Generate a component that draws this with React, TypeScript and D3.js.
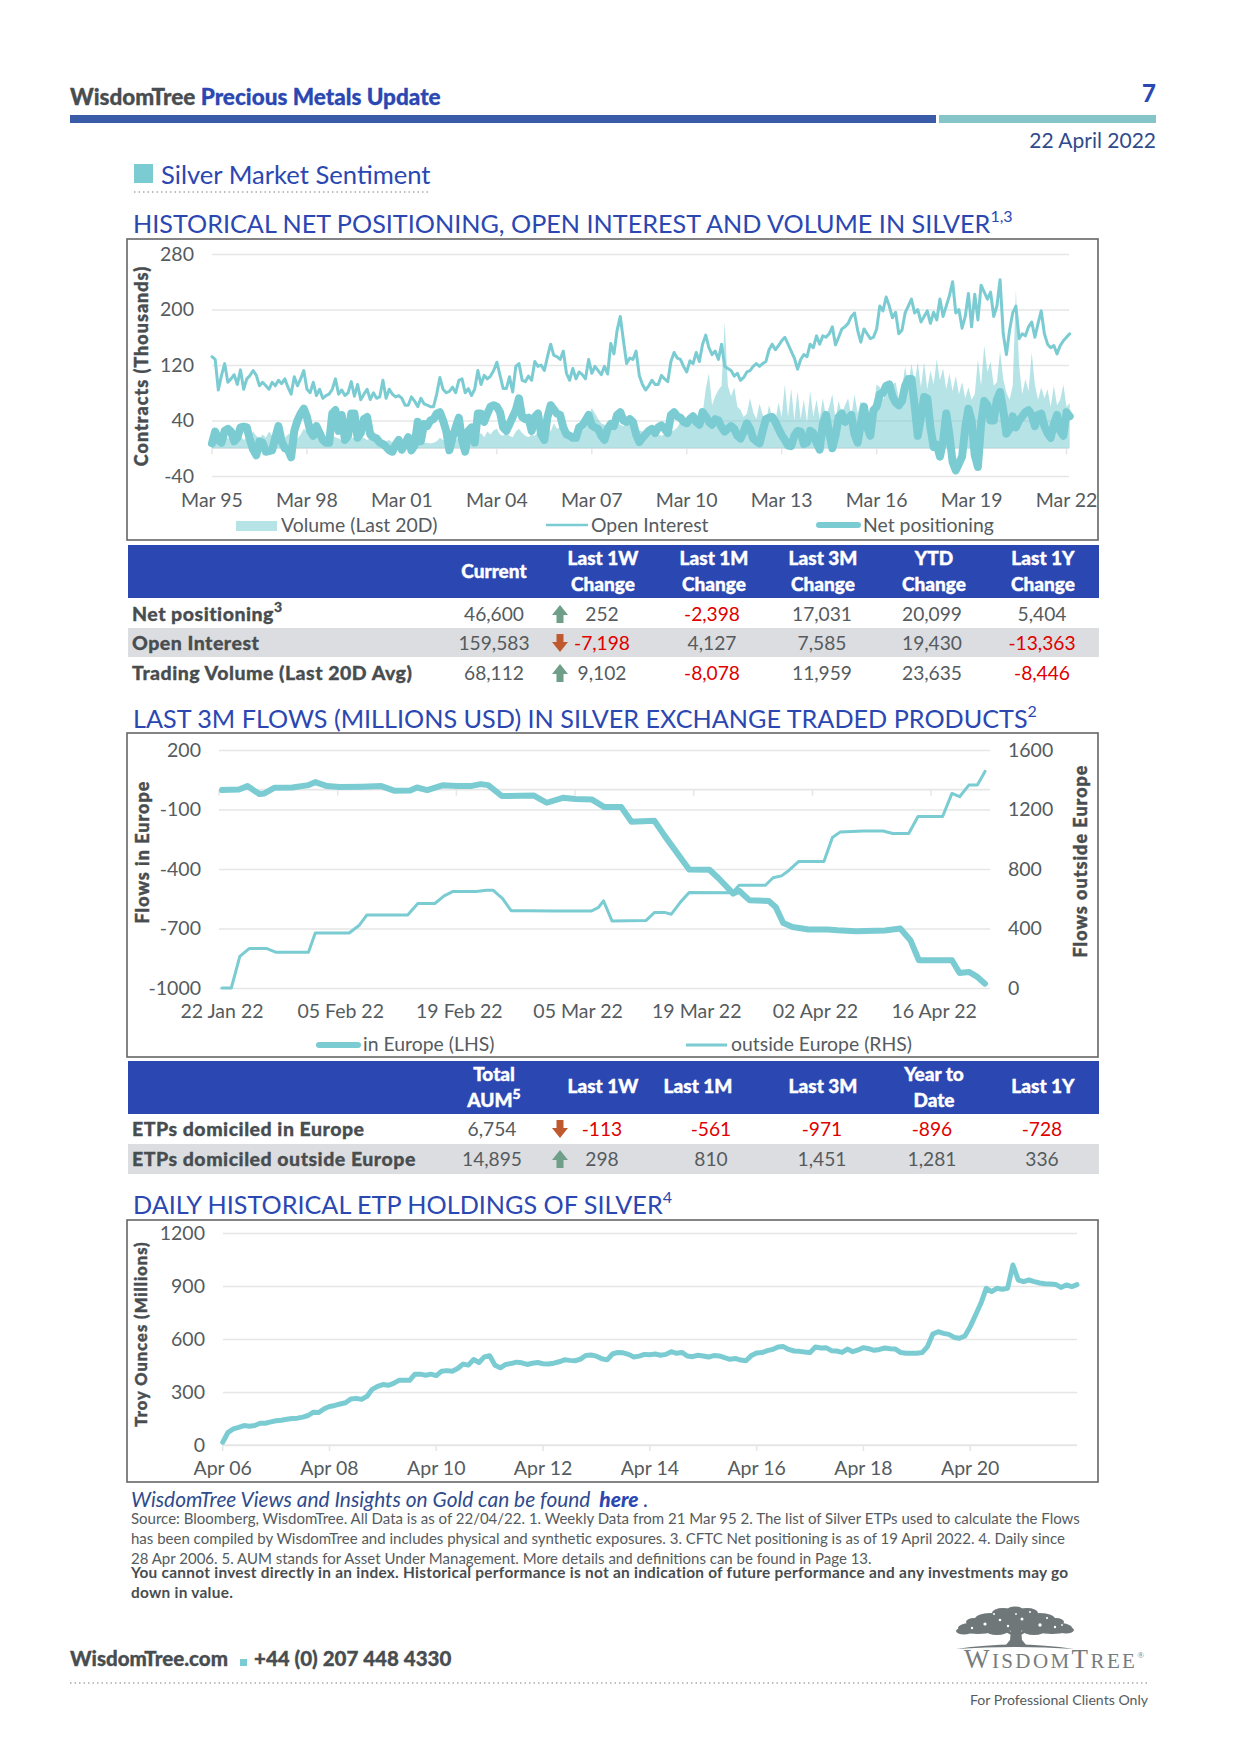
import { useEffect, useRef } from 'react';
import * as d3 from 'd3';

// chart 1, one reading every 0.1 year from Mar 95
const netPositioning = [
  7,24,12,8,25,28,24,10,15,30,31,30,12,-2,-10,10,8,-5,-4,-3,15,32,10,0,-2,-13,25,40,50,57,45,25,18,32,22,12,8,8,50,55,25,48,12,18,50,50,15,22,42,45,20,16,14,8,6,2,-3,-5,5,12,-2,6,16,-3,4,38,10,35,32,40,42,50,52,40,25,-3,15,30,44,12,-5,25,30,8,50,50,38,50,60,62,
  60,52,30,25,35,45,55,72,45,42,44,25,45,50,20,12,45,62,56,50,48,30,20,18,15,15,30,33,40,48,33,30,28,18,12,28,35,32,48,52,40,38,42,38,20,9,15,20,25,28,22,30,33,28,22,48,52,46,44,38,36,42,46,38,34,52,46,38,34,42,40,30,24,28,32,28,18,14,24,36,28,14,10,7,25,42,44,45,38,28,
  19,12,4,3,18,25,24,6,8,25,22,8,-2,35,48,22,0,18,45,50,38,42,48,20,8,35,60,30,18,55,60,78,80,90,92,75,66,62,68,90,100,100,62,18,45,74,72,30,2,5,-12,10,50,20,-20,-32,-22,-12,30,57,40,-10,-27,35,68,62,40,40,70,81,55,21,28,46,30,40,46,52,55,48,32,48,50,32,22,15,35,48,25,18,52,46,
];
const openInterest = [
  132,128,84,105,122,95,100,106,92,113,85,100,105,112,105,90,95,90,85,95,90,98,93,100,88,78,103,90,100,112,85,80,95,76,85,72,76,78,85,100,78,84,76,80,96,75,92,70,78,85,70,80,72,74,98,72,85,78,74,76,72,62,62,74,68,60,72,64,62,60,60,78,102,85,80,82,88,80,98,100,80,86,76,85,112,92,105,100,104,112,
  124,105,86,86,103,81,118,122,98,96,104,98,125,118,120,112,132,150,134,132,128,140,108,98,115,100,110,106,100,128,108,118,112,106,118,107,151,136,170,190,155,122,130,128,140,105,92,84,90,98,92,92,105,100,96,125,138,130,128,118,110,126,122,138,125,150,163,145,135,140,128,150,118,115,112,104,108,98,102,110,112,118,122,118,122,125,142,150,142,148,
  155,160,150,140,130,114,128,135,132,150,145,162,150,162,160,165,175,149,160,172,175,180,190,195,170,153,172,165,158,160,172,205,198,218,205,188,196,165,170,195,205,215,195,200,182,190,198,180,196,185,215,190,205,220,240,195,200,173,190,223,175,222,185,235,225,215,225,190,205,243,165,135,170,195,205,158,165,162,175,182,160,180,198,165,150,145,148,136,148,155,160,165,
];
const volume20d = [
  8,14,12,16,20,14,16,22,15,18,12,15,14,24,18,14,20,15,24,18,12,14,18,15,20,22,16,14,20,28,24,20,26,18,20,16,14,15,18,16,14,12,15,18,14,16,12,14,15,12,15,12,14,16,12,10,12,8,10,8,10,8,10,7,8,8,10,8,8,7,8,10,15,12,12,18,14,12,16,14,12,16,14,20,18,22,16,24,20,26,
  28,20,18,22,18,16,24,28,22,18,16,20,18,24,22,20,34,24,36,28,30,24,26,24,22,22,24,26,28,45,58,50,42,36,34,30,30,34,36,34,32,38,34,32,30,26,24,22,18,20,16,20,18,20,22,24,26,30,38,36,40,34,42,40,48,50,85,108,62,75,84,90,182,90,75,88,60,55,45,50,72,52,42,64,48,38,62,45,40,66,
  45,92,45,86,40,82,42,70,38,82,45,70,42,72,45,60,78,42,68,50,62,72,45,78,50,68,45,60,45,60,92,88,70,85,72,92,95,72,85,118,90,122,95,124,88,124,85,112,92,128,98,115,85,108,82,104,78,95,72,88,70,78,128,90,148,110,125,90,95,140,100,80,70,90,228,120,78,100,82,138,92,70,88,72,85,60,90,62,70,92,60,65,
];
const positioningTickYears = [1995.2, 1998.2, 2001.2, 2004.2, 2007.2, 2010.2, 2013.2, 2016.2, 2019.2, 2022.2];
const positioningTickLabels = ['Mar 95', 'Mar 98', 'Mar 01', 'Mar 04', 'Mar 07', 'Mar 10', 'Mar 13', 'Mar 16', 'Mar 19', 'Mar 22'];
const positioningYTicks = [280, 200, 120, 40, -40];

// chart 2, day counted from 22 Jan 22
const europeDays = [0,2,3,4.4,5,6.2,8.3,10.2,11,12.4,13.9,16.5,18.8,20.3,22.2,23,24.2,26,27.8,29.3,30.5,31.4,33,36.8,38.3,40.2,41.7,43.6,45.1,47.1,48.3,51,52.3,55.1,57.5,58.6,60.3,61,62.2,64.5,65.3,66.2,67.3,69.2,71.4,72.6,74.8,78.2,80,81.2,82.2,86.1,87,88.1,89.1,90];
const europeFlows = [-2,1,18,-22,-19,10,11,23,38,18,13,15,18,-5,-4,11,-2,22,18,18,28,23,-32,-30,-66,-41,-47,-49,-88,-88,-162,-157,-238,-403,-404,-448,-524,-510,-557,-561,-591,-672,-692,-705,-705,-709,-714,-710,-700,-759,-860,-860,-924,-919,-944,-978];
const outsideDays = [0,1.1,2.1,3.2,5.3,6.4,10.2,11,15,16.2,17.1,21.9,23.1,25.1,26.2,27.2,30,31.2,32,33.1,34.1,36.1,39.1,43.6,44.4,45,46,50,51,52.3,53,54.1,55.1,60.2,61,64.1,65,66,66.9,68,71,72,72.9,75.6,78,79.1,81,82.1,85,86.1,87,88.1,89.1,90];
const outsideFlows = [0,0,213,265,265,240,240,370,370,422,491,491,568,568,619,648,648,657,657,601,520,520,518,518,541,586,451,453,507,507,496,579,642,640,691,691,741,754,792,850,850,1012,1048,1055,1055,1039,1039,1153,1153,1308,1286,1364,1364,1456];
const flowTickDays = [0, 14, 28, 42, 56, 70, 84];
const flowTickLabels = ['22 Jan 22', '05 Feb 22', '19 Feb 22', '05 Mar 22', '19 Mar 22', '02 Apr 22', '16 Apr 22'];
const europeTicks = [200, -100, -400, -700, -1000];
const outsideTicks = [1600, 1200, 800, 400, 0];

// chart 3, one reading every 0.1 year from Apr 06
const etpHoldings = [
  15,72,91,100,110,106,110,123,123,131,137,140,146,150,152,158,167,186,184,205,218,224,232,239,260,264,258,275,315,332,342,338,349,366,366,366,401,401,395,401,393,418,421,418,433,458,452,484,467,499,505,452,437,456,461,469,465,456,463,467,460,458,463,471,482,479,477,486,507,509,503,488,482,515,524,522,513,498,503,513,511,
  515,508,513,528,519,524,504,500,508,504,498,506,504,494,485,490,481,477,506,521,523,534,541,555,557,541,532,530,526,523,555,549,551,534,532,524,543,528,538,551,545,536,541,549,545,543,523,519,519,519,523,557,628,641,632,626,609,604,617,670,736,802,887,868,887,881,887,1019,934,925,934,925,917,913,911,909,892,906,896,908,
];
const holdingTickYears = [2006.3, 2008.3, 2010.3, 2012.3, 2014.3, 2016.3, 2018.3, 2020.3];
const holdingTickLabels = ['Apr 06', 'Apr 08', 'Apr 10', 'Apr 12', 'Apr 14', 'Apr 16', 'Apr 18', 'Apr 20'];
const holdingYTicks = [1200, 900, 600, 300, 0];

// tables
const sentimentRows = ['Net positioning', 'Open Interest', 'Trading Volume (Last 20D Avg)'];
const sentimentCurrent = ['46,600', '159,583', '68,112'];
const sentimentWeek = ['252', '-7,198', '9,102'];
const sentimentMonth = ['-2,398', '4,127', '-8,078'];
const sentimentQuarter = ['17,031', '7,585', '11,959'];
const sentimentYtd = ['20,099', '19,430', '23,635'];
const sentimentYear = ['5,404', '-13,363', '-8,446'];
const flowRows = ['ETPs domiciled in Europe', 'ETPs domiciled outside Europe'];
const flowAum = ['6,754', '14,895'];
const flowWeek = ['-113', '298'];
const flowMonth = ['-561', '810'];
const flowQuarter = ['-971', '1,451'];
const flowYtd = ['-896', '1,281'];
const flowYear = ['-728', '336'];

const footnotes = [
  'Source: Bloomberg, WisdomTree. All Data is as of 22/04/22. 1. Weekly Data from 21 Mar 95 2. The list of Silver ETPs used to calculate the Flows',
  'has been compiled by WisdomTree and includes physical and synthetic exposures. 3. CFTC Net positioning is as of 19 April 2022. 4. Daily since',
  '28 Apr 2006. 5. AUM stands for Asset Under Management. More details and definitions can be found in Page 13.',
];
const disclaimer = [
  'You cannot invest directly in an index. Historical performance is not an indication of future performance and any investments may go',
  'down in value.',
];

const BLUE = '#2b47b2';
const TEAL = '#7accd2';
const GREY = '#555b5e';
const DARK = '#484d50';
const RED = '#e00000';
const FONT = 'Lato, sans-serif';
const UP_ARROW = 'M0,-9 L8,1 L3.5,1 L3.5,9 L-3.5,9 L-3.5,1 L-8,1 Z';
const DOWN_ARROW = 'M0,9 L8,-1 L3.5,-1 L3.5,-9 L-3.5,-9 L-3.5,-1 L-8,-1 Z';

// logo tree: clumps of leaves, then the gaps between them
const canopy = [
  [1015, 1622, 34, 9], [978, 1628, 20, 6], [1052, 1628, 20, 6], [964, 1631, 8, 3.5], [1066, 1630, 8, 3.5],
  [990, 1619, 15, 6], [1040, 1619, 15, 6], [1003, 1613, 11, 5], [1027, 1613, 11, 5], [1015, 1610, 8, 3.5],
  [1056, 1622, 8, 4], [974, 1622, 8, 4], [997, 1631, 11, 4], [1034, 1631, 11, 4],
];
const canopyGaps = [
  [985, 1624, 1.6], [1000, 1620, 1.3], [1022, 1619, 1.5], [1040, 1625, 1.7], [1055, 1627, 1.2], [972, 1628, 1.2],
  [1008, 1626, 1.2], [1030, 1612, 1], [994, 1614, 1], [1047, 1618, 1.1], [1016, 1614, 0.9], [1062, 1625, 0.9],
];

type G = d3.Selection<SVGGElement, unknown, null, undefined>;

function styleAxis(g: G, color = GREY) {
  g.attr('font-size', 19.5).attr('font-family', FONT);
  g.select('.domain').remove();
  g.selectAll('text').attr('fill', color);
}

function drawLine(g: G, xs: number[], ys: number[], x: (v: number) => number, y: (v: number) => number, width: number) {
  const line = d3.line<number>().x((_, i) => x(xs[i])).y(d => y(d));
  g.append('path').attr('d', line(ys)).attr('fill', 'none').attr('stroke', TEAL)
    .attr('stroke-width', width).attr('stroke-linejoin', 'round').attr('stroke-linecap', 'round');
}

// horizontal grid with labels, tick marks on the zero line, labels on the bottom
function axes(g: G, o: {
  y: d3.ScaleLinear<number, number>; yTicks: number[]; gridLeft: number; gridRight: number; labelGap: number;
  x: (v: number) => number; xTicks: number[]; xLabels: string[]; zeroY: number; labelY: number; tickShift: number;
}) {
  const grid = g.append('g').attr('transform', `translate(${o.gridLeft},0)`)
    .call(d3.axisLeft(o.y).tickValues(o.yTicks).tickFormat(d => String(d))
      .tickSize(-(o.gridRight - o.gridLeft)).tickPadding(o.labelGap));
  styleAxis(grid);
  grid.selectAll('line').attr('stroke', '#e5e6e6').attr('stroke-width', 1.6);

  g.append('line').attr('x1', o.gridLeft).attr('x2', o.gridRight).attr('y1', o.zeroY).attr('y2', o.zeroY)
    .attr('stroke', '#e5e6e6').attr('stroke-width', 1.6);
  g.selectAll('.mark').data(o.xTicks).enter().append('line').attr('class', 'mark')
    .attr('x1', d => o.x(d) + o.tickShift).attr('x2', d => o.x(d) + o.tickShift)
    .attr('y1', o.zeroY).attr('y2', o.zeroY + 6).attr('stroke', '#e5e6e6').attr('stroke-width', 1.5);

  g.selectAll('.xlabel').data(o.xTicks).enter().append('text').attr('class', 'xlabel')
    .attr('x', d => o.x(d)).attr('y', o.labelY).attr('text-anchor', 'middle')
    .attr('font-size', 19.5).attr('fill', GREY).text((_, i) => o.xLabels[i]);
}

function yTitle(g: G, text: string, cx: number, cy: number, size: number) {
  g.append('text').attr('transform', `translate(${cx},${cy}) rotate(-90)`).attr('text-anchor', 'middle')
    .attr('dominant-baseline', 'central').attr('font-size', size).attr('font-weight', 900)
    .attr('letter-spacing', 1).attr('fill', DARK).attr('stroke', DARK).attr('stroke-width', 0.4).text(text);
}

function legendText(g: G, text: string, x: number, y: number) {
  g.append('text').attr('x', x).attr('y', y).attr('font-size', 19.4).attr('fill', GREY).text(text);
}

function drawPositioning(g: G) {
  const years = netPositioning.map((_, i) => 1995.2 + i * 0.1);
  const x = d3.scaleLinear().domain([1995.2, 2022.3]).range([212, 1069.7]);
  const y = d3.scaleLinear().domain([-40, 280]).range([476, 254]);
  axes(g, { y, yTicks: positioningYTicks, gridLeft: 212, gridRight: 1069, labelGap: 18, x, xTicks: positioningTickYears,
    xLabels: positioningTickLabels, zeroY: y(0), labelY: 507, tickShift: 0 });

  const area = d3.area<number>().x((_, i) => x(years[i])).y0(y(0)).y1(d => y(d));
  g.append('path').attr('d', area(volume20d)).attr('fill', TEAL).attr('fill-opacity', 0.55);
  drawLine(g, years, openInterest, x, y, 3);
  drawLine(g, years, netPositioning, x, y, 8);

  yTitle(g, 'Contracts (Thousands)', 141, 366, 18);
  g.append('rect').attr('x', 236).attr('y', 521).attr('width', 41).attr('height', 10).attr('fill', TEAL).attr('fill-opacity', 0.55);
  legendText(g, 'Volume (Last 20D)', 281, 532);
  g.append('line').attr('x1', 546).attr('x2', 588).attr('y1', 525).attr('y2', 525).attr('stroke', TEAL).attr('stroke-width', 2.5);
  legendText(g, 'Open Interest', 591, 532);
  g.append('line').attr('x1', 819).attr('x2', 858).attr('y1', 525).attr('y2', 525).attr('stroke', TEAL).attr('stroke-width', 6).attr('stroke-linecap', 'round');
  legendText(g, 'Net positioning', 863, 532);
}

function drawFlows(g: G) {
  const x = d3.scaleLinear().domain([0, 90]).range([222, 985]);
  const left = d3.scaleLinear().domain([-1000, 200]).range([988, 750]);
  const right = d3.scaleLinear().domain([0, 1600]).range([988, 750]);
  axes(g, { y: left, yTicks: europeTicks, gridLeft: 219, gridRight: 990, labelGap: 18, x, xTicks: flowTickDays,
    xLabels: flowTickLabels, zeroY: left(0), labelY: 1018, tickShift: -3 });
  const rhs = g.append('g').attr('transform', 'translate(990,0)')
    .call(d3.axisRight(right).tickValues(outsideTicks).tickFormat(d => String(d)).tickSize(0).tickPadding(18));
  styleAxis(rhs);

  drawLine(g, outsideDays, outsideFlows, x, right, 3);
  drawLine(g, europeDays, europeFlows, x, left, 6);

  yTitle(g, 'Flows in Europe', 142, 852, 18);
  yTitle(g, 'Flows outside Europe', 1080, 861, 18);
  g.append('line').attr('x1', 319).attr('x2', 358).attr('y1', 1045).attr('y2', 1045).attr('stroke', TEAL).attr('stroke-width', 6).attr('stroke-linecap', 'round');
  legendText(g, 'in Europe (LHS)', 363, 1051);
  g.append('line').attr('x1', 686).attr('x2', 727).attr('y1', 1045).attr('y2', 1045).attr('stroke', TEAL).attr('stroke-width', 3);
  legendText(g, 'outside Europe (RHS)', 731, 1051);
}

function drawHoldings(g: G) {
  const years = etpHoldings.map((_, i) => 2006.3 + i * 0.1);
  const x = d3.scaleLinear().domain([2006.3, 2022.3]).range([222.7, 1077]);
  const y = d3.scaleLinear().domain([0, 1200]).range([1445, 1233]);
  axes(g, { y, yTicks: holdingYTicks, gridLeft: 223, gridRight: 1077, labelGap: 18, x, xTicks: holdingTickYears,
    xLabels: holdingTickLabels, zeroY: y(0), labelY: 1475, tickShift: 0 });
  drawLine(g, years, etpHoldings, x, y, 5);
  yTitle(g, 'Troy Ounces (Millions)', 141, 1334, 16.5);
}

function Cell({ x, y, text, color = GREY }: { x: number; y: number; text: string; color?: string }) {
  return <text x={x} y={y} textAnchor="middle" fontSize={19.2} fill={text.startsWith('-') ? RED : color}>{text}</text>;
}

function Header({ x, lines, y }: { x: number; lines: string[]; y: number[] }) {
  return (
    <>
      {lines.map((l, i) => (
        <text key={l} x={x} y={y[i]} textAnchor="middle" fontSize={19} fontWeight={900} fill="#fff" stroke="#fff" strokeWidth={0.4}>{l}</text>
      ))}
    </>
  );
}

function RowLabel({ y, text, sup }: { y: number; text: string; sup?: string }) {
  return (
    <text x={132} y={y} fontSize={19.5} fontWeight={900} letterSpacing={0.5} fill={DARK} stroke={DARK} strokeWidth={0.3}>
      {text}{sup && <tspan fontSize={14} dy={-9}>{sup}</tspan>}
    </text>
  );
}

function Arrow({ y, up }: { y: number; up: boolean }) {
  return <path transform={`translate(560,${y})`} d={up ? UP_ARROW : DOWN_ARROW} fill={up ? '#6f9f88' : '#bf5a30'} />;
}

function Title({ y, text, sup }: { y: number; text: string; sup: string }) {
  return (
    <text x={133} y={y} fontSize={25.2} fill={BLUE}>
      {text}<tspan fontSize={16} dy={-11}>{sup}</tspan>
    </text>
  );
}

export default function App() {
  const chartsRef = useRef<SVGGElement>(null);

  useEffect(() => {
    const root = d3.select(chartsRef.current!) as unknown as G;
    root.selectAll('*').remove();
    drawPositioning(root.append('g'));
    drawFlows(root.append('g'));
    drawHoldings(root.append('g'));
  }, []);

  const sentimentY = [621, 650, 680];
  const flowY = [1136, 1166];

  return (
    <svg width={1240} height={1753} style={{ position: 'absolute', left: 0, top: 0, fontFamily: FONT }}>
      {/* page header */}
      <text x={70} y={104.5} fontSize={22.5} fontWeight={900} fill={DARK} stroke={DARK} strokeWidth={0.3}>WisdomTree <tspan fill={BLUE} stroke={BLUE}>Precious Metals Update</tspan></text>
      <text x={1156} y={101.5} textAnchor="end" fontSize={24} fontWeight={900} fill={BLUE}>7</text>
      <rect x={70} y={115} width={866} height={8} fill="#3a5ca8" />
      <rect x={939} y={115} width={217} height={8} fill="#85c5ca" />
      <text x={1156} y={148} textAnchor="end" fontSize={21} fill="#2f4b8c">22 April 2022</text>
      <rect x={134} y={164} width={19} height={19} fill={TEAL} />
      <text x={161} y={183.5} fontSize={25.6} fill={BLUE}>Silver Market Sentiment</text>
      <line x1={134} x2={430} y1={192} y2={192} stroke="#aaa" strokeWidth={1.5} strokeDasharray="1.5 3" />

      <Title y={233} text="HISTORICAL NET POSITIONING, OPEN INTEREST AND VOLUME IN SILVER" sup="1,3" />
      <rect x={127} y={239} width={971} height={301} fill="none" stroke="#666" strokeWidth={1.6} />

      {/* sentiment table */}
      <rect x={128} y={545} width={971} height={53} fill={BLUE} />
      <Header x={494} lines={['Current']} y={[578]} />
      <Header x={603} lines={['Last 1W', 'Change']} y={[565, 591]} />
      <Header x={714} lines={['Last 1M', 'Change']} y={[565, 591]} />
      <Header x={823} lines={['Last 3M', 'Change']} y={[565, 591]} />
      <Header x={934} lines={['YTD', 'Change']} y={[565, 591]} />
      <Header x={1043} lines={['Last 1Y', 'Change']} y={[565, 591]} />
      <rect x={128} y={628} width={971} height={29} fill="#dcdde0" />
      {sentimentRows.map((r, i) => (
        <g key={r}>
          <RowLabel y={sentimentY[i]} text={r} sup={i === 0 ? '3' : undefined} />
          <Cell x={494} y={sentimentY[i]} text={sentimentCurrent[i]} />
          <Arrow y={sentimentY[i] - 7} up={!sentimentWeek[i].startsWith('-')} />
          <Cell x={602} y={sentimentY[i]} text={sentimentWeek[i]} />
          <Cell x={712} y={sentimentY[i]} text={sentimentMonth[i]} />
          <Cell x={822} y={sentimentY[i]} text={sentimentQuarter[i]} />
          <Cell x={932} y={sentimentY[i]} text={sentimentYtd[i]} />
          <Cell x={1042} y={sentimentY[i]} text={sentimentYear[i]} />
        </g>
      ))}

      <Title y={728} text="LAST 3M FLOWS (MILLIONS USD) IN SILVER EXCHANGE TRADED PRODUCTS" sup="2" />
      <rect x={127} y={733} width={971} height={324} fill="none" stroke="#666" strokeWidth={1.6} />

      {/* flows table */}
      <rect x={128} y={1061} width={971} height={53} fill={BLUE} />
      <Header x={494} lines={['Total']} y={[1081]} />
      <text x={494} y={1107} textAnchor="middle" fontSize={19} fontWeight={900} fill="#fff" stroke="#fff" strokeWidth={0.4}>AUM<tspan fontSize={14} dy={-8}>5</tspan></text>
      <Header x={603} lines={['Last 1W']} y={[1093]} />
      <Header x={698} lines={['Last 1M']} y={[1093]} />
      <Header x={823} lines={['Last 3M']} y={[1093]} />
      <Header x={934} lines={['Year to', 'Date']} y={[1081, 1107]} />
      <Header x={1043} lines={['Last 1Y']} y={[1093]} />
      <rect x={128} y={1144} width={971} height={30} fill="#dcdde0" />
      {flowRows.map((r, i) => (
        <g key={r}>
          <RowLabel y={flowY[i]} text={r} />
          <Cell x={492} y={flowY[i]} text={flowAum[i]} />
          <Arrow y={flowY[i] - 7} up={!flowWeek[i].startsWith('-')} />
          <Cell x={602} y={flowY[i]} text={flowWeek[i]} />
          <Cell x={711} y={flowY[i]} text={flowMonth[i]} />
          <Cell x={822} y={flowY[i]} text={flowQuarter[i]} />
          <Cell x={932} y={flowY[i]} text={flowYtd[i]} />
          <Cell x={1042} y={flowY[i]} text={flowYear[i]} />
        </g>
      ))}

      <Title y={1214} text="DAILY HISTORICAL ETP HOLDINGS OF SILVER" sup="4" />
      <rect x={127} y={1220} width={971} height={262} fill="none" stroke="#666" strokeWidth={1.6} />

      <g ref={chartsRef} />

      {/* notes */}
      <text x={131} y={1507} fontSize={20.9} fontStyle="italic" fill="#2f4b8c">
        WisdomTree Views and Insights on Gold can be found <tspan dx={4} fontWeight={900} fill={BLUE}>here</tspan> .
      </text>
      {footnotes.map((t, i) => (
        <text key={t} x={131} y={[1524, 1544, 1564][i]} fontSize={15} fill={GREY}>{t}</text>
      ))}
      {disclaimer.map((t, i) => (
        <text key={t} x={131} y={[1578, 1598][i]} fontSize={15.4} fontWeight={700} letterSpacing={0.27} fill={DARK}>{t}</text>
      ))}

      {/* page footer */}
      <text x={70} y={1666} fontSize={20.5} fontWeight={900} fill={DARK} stroke={DARK} strokeWidth={0.3}>WisdomTree.com</text>
      <rect x={240} y={1659} width={7} height={7} fill={TEAL} />
      <text x={254} y={1666} fontSize={20.5} fontWeight={900} fill={DARK} stroke={DARK} strokeWidth={0.3}>+44 (0) 207 448 4330</text>
      <line x1={70} x2={1149} y1={1683} y2={1683} stroke="#aaa" strokeWidth={1.5} strokeDasharray="1.5 3" />
      <text x={1148} y={1705} textAnchor="end" fontSize={14.1} fill={GREY}>For Professional Clients Only</text>

      {/* logo */}
      <g fill="#6f7779">
        {canopy.map(([cx, cy, rx, ry]) => <ellipse key={`${cx}-${cy}`} cx={cx} cy={cy} rx={rx} ry={ry} />)}
        <path d="M1011,1630 L1021,1630 L1022,1640 L1027,1646 L1005,1646 L1010,1640 Z" />
        <path d="M1000,1629 L1013,1636 L1013,1633 L1005,1628 Z M1032,1629 L1019,1636 L1019,1633 L1027,1628 Z" />
        <path d="M956,1649 Q1015,1640 1074,1649 Q1015,1645 956,1649 Z" />
      </g>
      <g fill="#fff">
        {canopyGaps.map(([cx, cy, r]) => <circle key={`${cx}-${cy}`} cx={cx} cy={cy} r={r} />)}
      </g>
      <text x={964} y={1668} fontFamily="Liberation Serif, serif" fill="#767c7e" letterSpacing={2.4} fontSize={21}>
        <tspan fontSize={27}>W</tspan>ISDOM<tspan fontSize={27}>T</tspan>REE<tspan fontSize={9} dy={-10}>®</tspan>
      </text>
    </svg>
  );
}
